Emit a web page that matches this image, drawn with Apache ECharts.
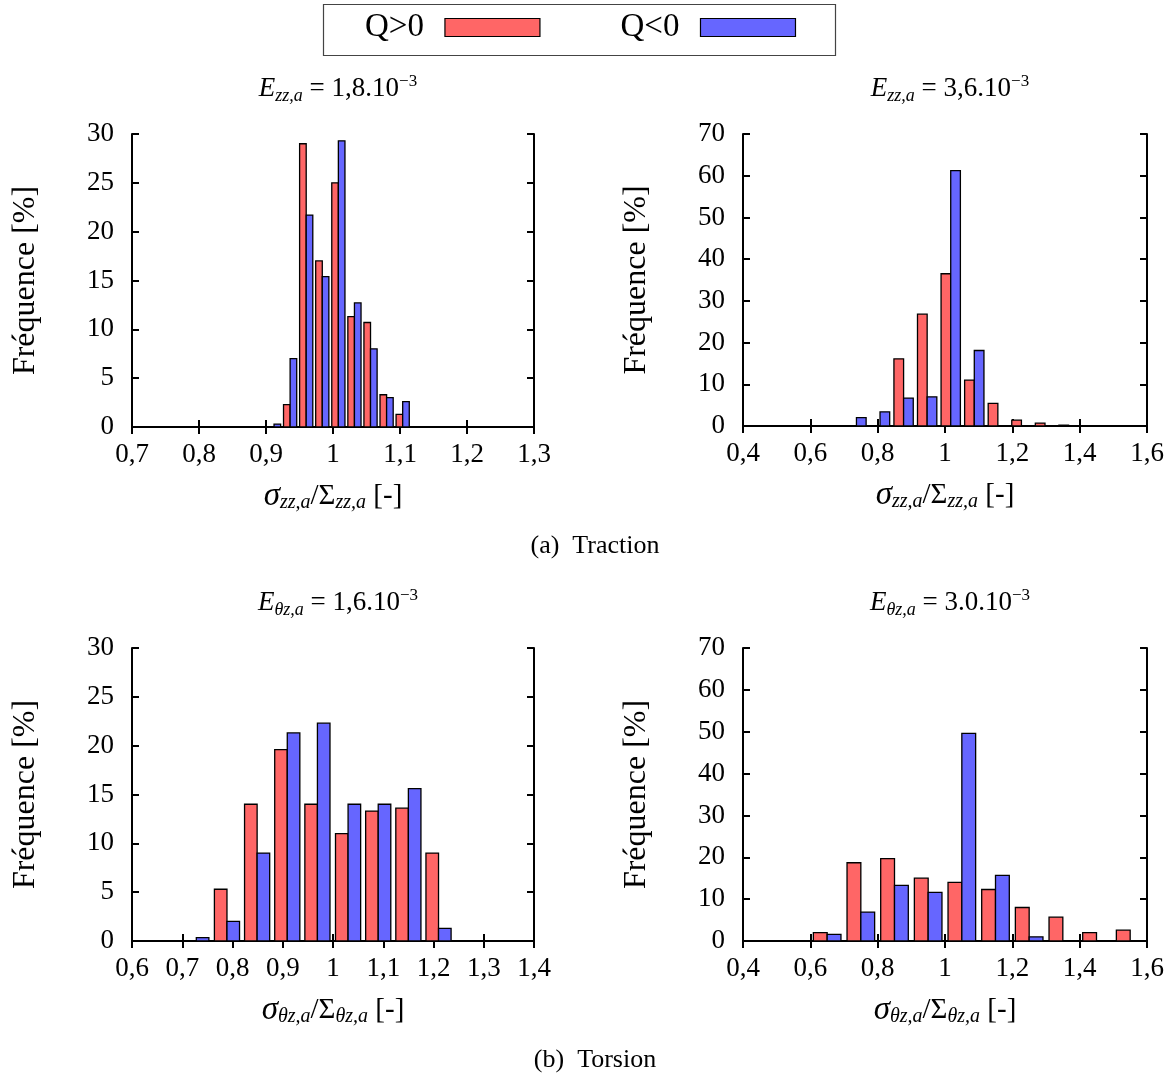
<!DOCTYPE html>
<html>
<head>
<meta charset="utf-8">
<script src="https://cdn.jsdelivr.net/npm/echarts@6/dist/echarts.min.js"></script>
<style>
html,body{margin:0;padding:0;background:#fff;}
#chart{width:1174px;height:1075px;}
</style>
</head>
<body>
<div id="chart"></div>
<script>
// ---- Data ----
// Panel (a) left: E_zz,a = 1,8.10^-3
const centers1 = [0.912, 0.936, 0.960, 0.984, 1.008, 1.032, 1.056, 1.080, 1.104];
const red1     = [0,     2.3,   29.0,  17.0,  25.0,  11.3,  10.7,  3.3,   1.3];
const blue1    = [0.3,   7.0,   21.7,  15.4,  29.3,  12.7,  8.0,   3.0,   2.6];
// Panel (a) right: E_zz,a = 3,6.10^-3
const centers2 = [0.737, 0.807, 0.877, 0.947, 1.017, 1.087, 1.157, 1.227, 1.297, 1.367];
const red2     = [0,     0,     16.1,  26.8,  36.5,  11.0,  5.4,   1.4,   0.7,   0.2];
const blue2    = [2.0,   3.4,   6.7,   7.0,   61.2,  18.1,  0,     0,     0,     0];
// Panel (b) left: E_θz,a = 1,6.10^-3
const centers3 = [0.728, 0.789, 0.849, 0.909, 0.969, 1.030, 1.090, 1.150, 1.210];
const red3     = [0,     5.3,   14.0,  19.6,  14.0,  11.0,  13.3,  13.6,  9.0];
const blue3    = [0.35,  2.0,   9.0,   21.3,  22.3,  14.0,  14.0,  15.6,  1.3];
// Panel (b) right: E_θz,a = 3.0.10^-3
const centers4 = [0.65, 0.75, 0.85, 0.95, 1.05, 1.15, 1.25, 1.35, 1.45, 1.55];
const red4     = [2.0,  18.7, 19.7, 15.0, 14.0, 12.3, 8.0,  5.7,  2.0,  2.6];
const blue4    = [1.6,  6.9,  13.3, 11.6, 49.6, 15.7, 1.0,  0,    0,    0];

const seriesNames = ['Q>0', 'Q<0'];
const xRanges = [[0.7, 1.3, 0.1], [0.4, 1.6, 0.2], [0.6, 1.4, 0.1], [0.4, 1.6, 0.2]];
const yRanges = [[0, 30, 5], [0, 70, 10], [0, 30, 5], [0, 70, 10]];
const panelTitles = [
  '{E|E}{sub|zz,a}{n| = 1,8.10}{sup|−3}',
  '{E|E}{sub|zz,a}{n| = 3,6.10}{sup|−3}',
  '{E|E}{sub|θz,a}{n| = 1,6.10}{sup|−3}',
  '{E|E}{sub|θz,a}{n| = 3.0.10}{sup|−3}'
];
const xNames = [
  '{s|σ}{sub|zz,a}{n|/Σ}{sub|zz,a}{n| [-]}',
  '{s|σ}{sub|zz,a}{n|/Σ}{sub|zz,a}{n| [-]}',
  '{s|σ}{sub|θz,a}{n|/Σ}{sub|θz,a}{n| [-]}',
  '{s|σ}{sub|θz,a}{n|/Σ}{sub|θz,a}{n| [-]}'
];
const yName = 'Fréquence [%]';
const captions = ['(a)  Traction', '(b)  Torsion'];

const panels = [
  {c: centers1, r: red1, b: blue1},
  {c: centers2, r: red2, b: blue2},
  {c: centers3, r: red3, b: blue3},
  {c: centers4, r: red4, b: blue4}
];

// ---- Layout / style ----
const FONT = 'Liberation Serif';
const RED = '#ff6666', BLUE = '#6666ff';
const BAR_FRAC = 0.41;
const grids = [
  {left: 132, top: 134, width: 402, height: 293},
  {left: 743, top: 134, width: 404, height: 292},
  {left: 132, top: 648, width: 402, height: 293},
  {left: 743, top: 648, width: 404, height: 293}
];

function fmt(v) {
  const r = Math.round(v * 10) / 10;
  return String(r).replace('.', ',');
}

const richTxt = {
  s: {fontFamily: FONT, fontStyle: 'italic', fontSize: 33, lineHeight: 34, color: '#000', fontWeight: 'normal'},
  n: {fontFamily: FONT, fontSize: 29, lineHeight: 34, color: '#000', fontWeight: 'normal'},
  sub: {fontFamily: FONT, fontStyle: 'italic', fontSize: 20, lineHeight: 20, verticalAlign: 'bottom', color: '#000', fontWeight: 'normal'}
};
const richTitle = {
  E: {fontFamily: FONT, fontStyle: 'italic', fontSize: 27, lineHeight: 32, color: '#000', fontWeight: 'normal'},
  n: {fontFamily: FONT, fontSize: 27, lineHeight: 32, color: '#000', fontWeight: 'normal'},
  sub: {fontFamily: FONT, fontStyle: 'italic', fontSize: 18, lineHeight: 18, verticalAlign: 'bottom', color: '#000', fontWeight: 'normal'},
  sup: {fontFamily: FONT, fontSize: 17, lineHeight: 17, verticalAlign: 'top', color: '#000', fontWeight: 'normal'}
};

const xAxes = [], yAxes = [], series = [], titles = [];
const tickStyle = {show: true, inside: true, length: 7, lineStyle: {color: '#000', width: 2}};

grids.forEach((g, i) => {
  const [xmin, xmax, xint] = xRanges[i];
  const [ymin, ymax, yint] = yRanges[i];
  xAxes.push({
    type: 'value', gridIndex: i, position: 'bottom', min: xmin, max: xmax, interval: xint,
    axisLine: {show: true, lineStyle: {color: '#000', width: 2}},
    axisTick: tickStyle, splitLine: {show: false},
    axisLabel: {fontFamily: FONT, fontSize: 27, color: '#000', margin: 14, formatter: fmt},
    name: xNames[i], nameLocation: 'middle', nameGap: 52,
    nameTextStyle: {rich: richTxt}
  });
  xAxes.push({
    type: 'value', gridIndex: i, position: 'top', min: xmin, max: xmax, interval: xint,
    axisLine: {show: true, lineStyle: {color: '#000', width: 2}},
    axisTick: tickStyle, splitLine: {show: false}, axisLabel: {show: false}
  });
  yAxes.push({
    type: 'value', gridIndex: i, position: 'left', min: ymin, max: ymax, interval: yint,
    axisLine: {show: true, lineStyle: {color: '#000', width: 2}},
    axisTick: tickStyle, splitLine: {show: false},
    axisLabel: {fontFamily: FONT, fontSize: 27, color: '#000', margin: 18},
    name: yName, nameLocation: 'middle', nameRotate: 90, nameGap: 90,
    nameTextStyle: {fontFamily: FONT, fontSize: 32, color: '#000'}
  });
  yAxes.push({
    type: 'value', gridIndex: i, position: 'right', min: ymin, max: ymax, interval: yint,
    axisLine: {show: true, lineStyle: {color: '#000', width: 2}},
    axisTick: tickStyle, splitLine: {show: false}, axisLabel: {show: false}
  });

  const p = panels[i];
  const binW = p.c[1] - p.c[0];
  const w = BAR_FRAC * binW;
  [[p.r, -1, RED, 0], [p.b, 1, BLUE, 1]].forEach(([vals, side, color, k]) => {
    series.push({
      type: 'custom', name: seriesNames[k],
      xAxisIndex: 2 * i, yAxisIndex: 2 * i,
      itemStyle: {color: color},
      encode: {x: 0, y: 1},
      data: p.c.map((c, j) => [c, vals[j]]),
      renderItem: function (params, api) {
        const c = api.value(0), v = api.value(1);
        if (!v) return;
        const x0 = side < 0 ? c - w : c;
        const p0 = api.coord([x0, 0]);
        const p1 = api.coord([x0 + w, v]);
        return {
          type: 'rect',
          shape: {x: p0[0], y: p1[1], width: p1[0] - p0[0], height: p0[1] - p1[1]},
          style: {fill: color, stroke: '#000', lineWidth: 1.3}
        };
      }
    });
  });

  titles.push({
    text: panelTitles[i],
    left: g.left + g.width / 2, top: g.top - 66, textAlign: 'center',
    textStyle: {fontWeight: 'normal', rich: richTitle}
  });
});

titles.push({
  text: captions[0], left: 590, top: 528, textAlign: 'center',
  textStyle: {fontFamily: FONT, fontSize: 26, fontWeight: 'normal', color: '#000'}
});
titles.push({
  text: captions[1], left: 590, top: 1042, textAlign: 'center',
  textStyle: {fontFamily: FONT, fontSize: 26, fontWeight: 'normal', color: '#000'}
});

const option = {
  backgroundColor: '#fff',
  animation: false,
  title: titles,
  grid: grids.map(g => Object.assign({show: false, containLabel: false}, g)),
  xAxis: xAxes,
  yAxis: yAxes,
  legend: {
    data: seriesNames,
    left: 360, top: 6,
    icon: 'rect', itemWidth: 95, itemHeight: 18, itemGap: 80,
    align: 'right',
    itemStyle: {borderColor: '#000', borderWidth: 1.2},
    textStyle: {fontFamily: FONT, fontSize: 33, color: '#000', padding: [0, 16, 0, 0]},
    selectedMode: false
  },
  graphic: [{
    type: 'rect', shape: {x: 323.5, y: 4.5, width: 512, height: 51},
    style: {fill: 'none', stroke: '#444', lineWidth: 1.2}, z: -1
  }],
  series: series
};

const chart = echarts.init(document.getElementById('chart'), null, {renderer: 'canvas'});
chart.setOption(option);
</script>
</body>
</html>
